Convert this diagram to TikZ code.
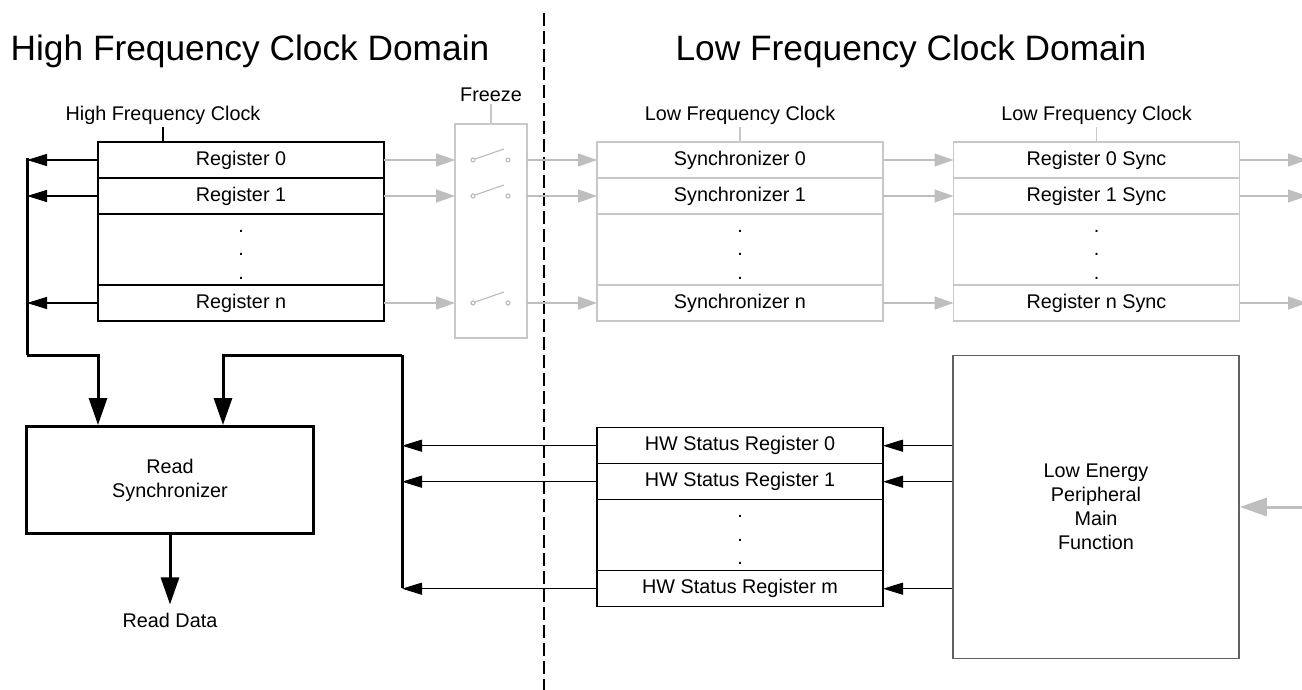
\documentclass[tikz,border=0pt]{standalone}
\usepackage{fontspec}
\setmainfont{Liberation Sans}
\usetikzlibrary{positioning,arrows.meta}
\definecolor{lightline}{HTML}{C8C8C8}
\definecolor{lightarrow}{HTML}{BEBEBE}
\definecolor{boxgray}{HTML}{606060}
\newcommand{\regfont}{\fontsize{19.8}{24}\selectfont}
\newcommand{\titlefont}{\fontsize{35.3}{40}\selectfont}
\newcommand{\vdotsrow}{\rule{0pt}{12pt}.\\.\\.}
\tikzset{
  % one row of a register bank
  regrow/.style={draw=#1,rectangle,line width=1.2pt,minimum width=286pt,
    minimum height=36pt,inner sep=0pt,outer sep=0pt,font=\regfont},
  regrow/.default=black,
  % the row with the dots in it
  dotrow/.style={regrow=#1,minimum height=71pt,align=center,
    font=\fontsize{19.8}{23.5}\selectfont},
  dotrow/.default=black,
  title/.style={font=\titlefont,inner sep=0pt},
  txt/.style={font=\regfont,inner sep=2pt},
  clockline/.style={draw=#1,line width=1.2pt},
  clockline/.default=black,
  domainline/.style={line width=2pt,dash pattern=on 13pt off 5pt},
  darrow/.style={line width=1.2pt,-{Triangle[length=20pt,width=12pt]}},
  garrow/.style={lightarrow,line width=1.5pt,-{Triangle[length=19pt,width=13pt]}},
  busline/.style={line width=3pt},
  busarrow/.style={line width=3pt,-{Triangle[length=27pt,width=18pt]}},
  switch/.style={lightarrow,line width=1.2pt},
}
\begin{document}
\begin{tikzpicture}[x=1pt,y=-1pt]
\useasboundingbox (0,0) rectangle (1302,690);

% domains
\node[title,anchor=base] (hftitle) at (250,61) {High Frequency Clock Domain};
\node[title,anchor=base] (lftitle) at (911,61) {Low Frequency Clock Domain};
\coordinate (divtop) at (544,13);
\coordinate (divbot) at (544,690);
\draw[domainline] (divtop) -- (divbot);

% high frequency registers
\node[regrow] (hfr0) at (241,160) {Register 0};
\node[regrow,below=0pt of hfr0] (hfr1) {Register 1};
\node[dotrow,below=0pt of hfr1] (hfrd) {\vdotsrow};
\node[regrow,below=0pt of hfrd] (hfrn) {Register n};
\node[txt,anchor=base] (hfclk) at (163,121) {High Frequency Clock};
\draw[clockline] (hfclk.south) -- (hfclk.south |- hfr0.north);

% freeze
\node[draw=lightline,line width=1.2pt,minimum width=72pt,minimum height=214pt,
  inner sep=0pt,outer sep=0pt] (frz) at (491,231) {};
\node[txt,anchor=base] (frzlbl) at (491,102) {Freeze};
\draw[clockline=lightline] (frzlbl.south) -- (frz.north);

% synchronizers
\node[regrow=lightline] (syn0) at (740,160) {Synchronizer 0};
\node[regrow=lightline,below=0pt of syn0] (syn1) {Synchronizer 1};
\node[dotrow=lightline,below=0pt of syn1] (synd) {\vdotsrow};
\node[regrow=lightline,below=0pt of synd] (synn) {Synchronizer n};
\node[txt,anchor=base] (lfclk1) at (740,121) {Low Frequency Clock};
\draw[clockline=lightline] (lfclk1.south) -- (lfclk1.south |- syn0.north);

% synchronized registers
\node[regrow=lightline] (rsy0) at (1096.5,160) {Register 0 Sync};
\node[regrow=lightline,below=0pt of rsy0] (rsy1) {Register 1 Sync};
\node[dotrow=lightline,below=0pt of rsy1] (rsyd) {\vdotsrow};
\node[regrow=lightline,below=0pt of rsyd] (rsyn) {Register n Sync};
\node[txt,anchor=base] (lfclk2) at (1096.5,121) {Low Frequency Clock};
\draw[clockline=lightline] (lfclk2.south) -- (lfclk2.south |- rsy0.north);
\coordinate (rim) at (1307,0);

% hw status registers
\node[regrow] (hws0) at (740,445.7) {HW Status Register 0};
\node[regrow,below=0pt of hws0] (hws1) {HW Status Register 1};
\node[dotrow,below=0pt of hws1] (hwsd) {\vdotsrow};
\node[regrow,below=0pt of hwsd] (hwsm) {HW Status Register m};

% main function
\node[draw=boxgray,line width=1.5pt,minimum width=286pt,minimum height=303pt,
  align=center,font=\regfont] (lepf) at (1096,507) {Low Energy\\Peripheral\\Main\\Function};
\coordinate (lein) at (1302,507);
\draw[garrow,line width=3pt,-{Triangle[length=27pt,width=18pt]}] (lein) -- (lepf.east);

% read synchronizer
\node[draw,line width=3pt,minimum width=287pt,minimum height=107pt,
  align=center,font=\regfont] (rdsync) at (170,480) {Read\\Synchronizer};
\node[txt,anchor=base,inner ysep=8pt] (rddata) at (170,627) {Read Data};
\draw[busarrow] (rdsync.south) -- (rddata.north);

% register paths
\foreach \a/\b/\c in {hfr0/syn0/rsy0,hfr1/syn1/rsy1,hfrn/synn/rsyn}{
  \draw[garrow] (\a.east) -- (\a.east -| frz.west);
  \draw[garrow] (frz.east |- \a) -- (\b.west);
  \draw[garrow] (\b.east) -- (\c.west);
  \draw[garrow] (\c.east) -- (\c.east -| rim);
  \draw[switch] (frz |- \a) ++(-18,0) circle[radius=2pt] ++(2,-1) -- ++(29,-10)
    (frz |- \a) ++(17,0) circle[radius=2pt];
}

% read bus from the high frequency registers
\coordinate (hbus) at (27,158);
\coordinate (hbend) at (27,355);
\foreach \r in {hfr0,hfr1,hfrn}
  \draw[darrow] (\r.west) -- (\r.west -| hbus);
\draw[busline] (hbus) -- (hbend);
\draw[busarrow] (hbend) -| ([xshift=-72pt]rdsync.north);

% read bus from the hw status registers
\coordinate (sbus) at (402,588);
\coordinate (sbend) at (402,355);
\foreach \r in {hws0,hws1,hwsm}{
  \draw[darrow] (\r.west) -- (\r.west -| sbus);
  \draw[darrow] (lepf.west |- \r) -- (\r.east);
}
\draw[busline] (sbus) -- (sbend);
\draw[busarrow] (sbend) -| ([xshift=53pt]rdsync.north);
\end{tikzpicture}
\end{document}
